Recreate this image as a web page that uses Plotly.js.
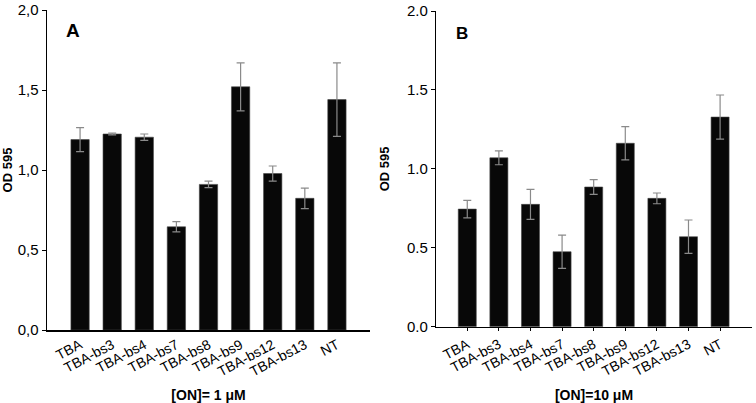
<!DOCTYPE html>
<html>
<head>
<meta charset="utf-8">
<script src="https://cdn.plot.ly/plotly-3.0.1.min.js"></script>
<style>html,body{margin:0;padding:0;background:#fff;}#plot{width:756px;height:403px;}</style>
</head>
<body>
<div id="plot"></div>
<script>
// Categories
const categories = ["TBA","TBA-bs3","TBA-bs4","TBA-bs7","TBA-bs8","TBA-bs9","TBA-bs12","TBA-bs13","NT"];
// Panel A: [ON] = 1 µM
const valuesA = [1.19, 1.225, 1.205, 0.645, 0.91, 1.52, 0.978, 0.823, 1.44];
const errorsA = [0.075, 0.005, 0.02, 0.032, 0.02, 0.15, 0.047, 0.064, 0.23];
// Panel B: [ON] = 10 µM
const valuesB = [0.745, 1.07, 0.775, 0.475, 0.885, 1.162, 0.813, 0.57, 1.328];
const errorsB = [0.055, 0.044, 0.095, 0.105, 0.047, 0.105, 0.034, 0.106, 0.14];
// Tick labels
const yTickVals = [0, 0.5, 1.0, 1.5, 2.0];
const yTickTextA = ["0,0","0,5","1,0","1,5","2,0"];
const yTickTextB = ["0.0","0.5","1.0","1.5","2.0"];

const FONT = "Liberation Sans, Arial, sans-serif";
const W = 756, H = 403;

function bar(vals, errs, xa, ya) {
  return {
    type: "bar", x: categories, y: vals, xaxis: xa, yaxis: ya,
    marker: {color: "#080808", line: {color: "#444", width: 0.6}},
    width: 0.57,
    error_y: {type: "data", array: errs, visible: true, color: "#8a8a8a", thickness: 1.2, width: 4},
    hoverinfo: "none", showlegend: false
  };
}

const data = [bar(valuesA, errorsA, "x", "y"), bar(valuesB, errorsB, "x2", "y2")];

const xCommon = {
  type: "category", showline: true, linecolor: "#000", linewidth: 1.5,
  showgrid: false, zeroline: false, tickangle: -28,
  tickfont: {family: FONT, size: 14, color: "#000"}, automargin: false
};
const yCommon = {
  showline: true, linecolor: "#000", linewidth: 1.5, showgrid: false, zeroline: false,
  ticks: "outside", ticklen: 4, tickwidth: 1, tickcolor: "#000",
  tickvals: yTickVals, range: [0, 2.0],
  tickfont: {family: FONT, size: 15, color: "#000"}, automargin: false
};

const layout = {
  width: W, height: H,
  margin: {l: 0, r: 0, t: 0, b: 0},
  paper_bgcolor: "#fff", plot_bgcolor: "rgba(0,0,0,0)",
  bargap: 0.43,
  xaxis: Object.assign({}, xCommon, {
    domain: [47/W, 370/W], range: [-1.03, 9.03], anchor: "y", ticks: "",
    title: {text: "<b>[ON]= 1 μM</b>", font: {family: FONT, size: 14, color: "#000"}, standoff: 20}
  }),
  yaxis: Object.assign({}, yCommon, {
    domain: [(H-330)/H, (H-10)/H], anchor: "x", ticktext: yTickTextA,
    title: {text: "<b>OD 595</b>", font: {family: FONT, size: 13, color: "#000"}, standoff: 8}
  }),
  xaxis2: Object.assign({}, xCommon, {
    domain: [436.3/W, 751.7/W], range: [-0.98, 9.0], anchor: "y2",
    ticks: "outside", ticklen: 3, tickcolor: "#000",
    title: {text: "<b>[ON]=10 μM</b>", font: {family: FONT, size: 14, color: "#000"}, standoff: 20}
  }),
  yaxis2: Object.assign({}, yCommon, {
    domain: [(H-326.7)/H, (H-11)/H], anchor: "x2", ticktext: yTickTextB,
    title: {text: "<b>OD 595</b>", font: {family: FONT, size: 13, color: "#000"}, standoff: 14}
  }),
  annotations: [
    {text: "<b>A</b>", xref: "paper", yref: "paper", x: 73/W, y: (H-30)/H, xanchor: "center", yanchor: "middle",
     showarrow: false, font: {family: FONT, size: 19, color: "#000"}},
    {text: "<b>B</b>", xref: "paper", yref: "paper", x: 462/W, y: (H-33)/H, xanchor: "center", yanchor: "middle",
     showarrow: false, font: {family: FONT, size: 17, color: "#000"}}
  ]
};

Plotly.newPlot("plot", data, layout, {displayModeBar: false, staticPlot: true});
</script>
</body>
</html>
